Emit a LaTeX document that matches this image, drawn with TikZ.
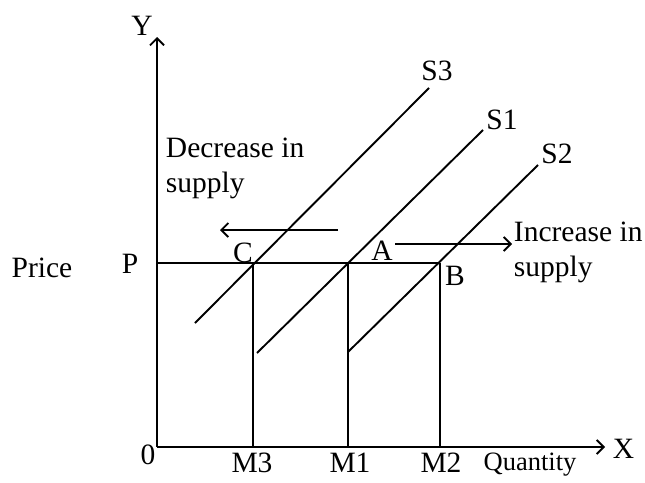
\documentclass[tikz,border=0pt]{standalone}
\usepackage{fontspec}
\setmainfont{Liberation Serif}
\usetikzlibrary{arrows.meta}
\begin{document}
\begin{tikzpicture}[x=1pt,y=-1pt, line width=1.9pt,
  lbl/.style={font=\fontsize{29.5}{34}\selectfont, inner sep=0pt},
  small/.style={font=\fontsize{26.5}{30}\selectfont, inner sep=0pt},
  tip/.style={-{Straight Barb[length=7pt,width=14pt,line width=1.8pt]}}]
\useasboundingbox (0,0) rectangle (645,482);
% key points
\coordinate (O) at (157,447);
\coordinate (Ytop) at (157,37);
\coordinate (Xend) at (605,447);
\coordinate (Pax) at (157,263);
\coordinate (C) at (253,263);
\coordinate (A) at (348,263);
\coordinate (B) at (440,263);
\coordinate (M3) at (253,447);
\coordinate (M1) at (348,447);
\coordinate (M2) at (440,447);
\coordinate (S3lo) at (195,323);
\coordinate (S3hi) at (429,88);
\coordinate (S1lo) at (257,353);
\coordinate (S1hi) at (483,130);
\coordinate (S2lo) at (348,352);
\coordinate (S2hi) at (538,165);
\coordinate (dec1) at (338,230);
\coordinate (dec2) at (220,230);
\coordinate (inc1) at (395,244);
\coordinate (inc2) at (512,244);
% axes
\draw[tip] (O) -- (Ytop);
\draw[tip] (O) -- (Xend);
% price line and verticals
\draw (Pax) -- (B);
\draw (C) -- (M3);
\draw (A) -- (M1);
\draw (B) -- (M2);
% supply curves
\draw (S3lo) -- (S3hi);
\draw (S1lo) -- (S1hi);
\draw (S2lo) -- (S2hi);
% shift arrows
\draw[tip] (dec1) -- (dec2);
\draw[tip] (inc1) -- (inc2);
% labels
\node[lbl, anchor=base] (ylab) at (142,35) {Y};
\node[lbl, anchor=base west] (xlab) at (612,458) {X};
\node[lbl, anchor=base] (s3lab) at (437,80) {S3};
\node[lbl, anchor=base] (s1lab) at (502,129) {S1};
\node[lbl, anchor=base] (s2lab) at (557,163) {S2};
\node[lbl, anchor=base west] (dec) at (165,157) {Decrease in};
\node[lbl, anchor=base west] (dec2t) at (165,192) {supply};
\node[lbl, anchor=base west] (inc) at (513,241) {Increase in};
\node[lbl, anchor=base west] (inc2t) at (513,276) {supply};
\node[lbl, anchor=base] (clab) at (243,262) {C};
\node[lbl, anchor=base] (alab) at (382,260) {A};
\node[lbl, anchor=base] (blab) at (455,285) {B};
\node[lbl, anchor=base] (plab) at (130,273) {P};
\node[lbl, anchor=base] (price) at (42,277) {Price};
\node[lbl, anchor=base] (zero) at (148,464) {0};
\node[lbl, anchor=base] (m3lab) at (252,472) {M3};
\node[lbl, anchor=base] (m1lab) at (350,472) {M1};
\node[lbl, anchor=base] (m2lab) at (441,472) {M2};
\node[small, anchor=base] (qty) at (530,470) {Quantity};
\end{tikzpicture}
\end{document}
